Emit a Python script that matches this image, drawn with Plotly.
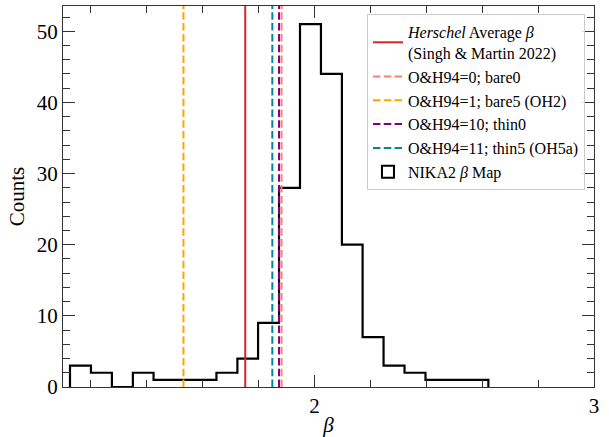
import plotly.graph_objects as go

# Histogram of NIKA2 beta map
bin_edges = [1.125, 1.200, 1.275, 1.350, 1.424, 1.499, 1.574, 1.649, 1.724, 1.798,
             1.873, 1.948, 2.023, 2.098, 2.172, 2.247, 2.322, 2.397, 2.472, 2.547, 2.622]
counts = [3, 2, 0, 2, 1, 1, 1, 2, 4, 9, 28, 51, 44, 20, 7, 3, 2, 1, 1, 1]

# Reference beta values (vertical lines)
line_names = ["<i>Herschel</i> Average <i>β</i><br>(Singh & Martin 2022)",
              "O&H94=0; bare0",
              "O&H94=1; bare5 (OH2)",
              "O&H94=10; thin0",
              "O&H94=11; thin5 (OH5a)"]
line_values = [1.752, 1.882, 1.531, 1.873, 1.849]
line_colors = ["#d62728", "#fa8072", "#ffa500", "#800080", "#008b8b"]
line_dashes = ["solid", "7.5px,3.3px", "7.5px,3.3px", "7.5px,3.3px", "7.5px,3.3px"]

x_range = [1.1, 3.0]
y_range = [0, 53.55]

FONT = "Liberation Serif, Times New Roman, serif"

fig = go.Figure()

# step outline
sx = [bin_edges[0]]
sy = [0]
for i, c in enumerate(counts):
    sx.append(bin_edges[i])
    sy.append(c)
sx.append(bin_edges[-1])
sy.append(counts[-1])
sx.append(bin_edges[-1])
sy.append(0)
fig.add_trace(go.Scatter(x=sx, y=sy, mode="lines", line=dict(color="black", width=2.2, shape="hv"),
                         showlegend=False, hoverinfo="skip"))

for name, v, col, dash in zip(line_names, line_values, line_colors, line_dashes):
    fig.add_trace(go.Scatter(x=[v, v], y=y_range, mode="lines", name=name,
                             line=dict(color=col, width=2, dash=dash)))

# legend proxy for histogram
fig.add_trace(go.Bar(x=[None], y=[None], name="NIKA2 <i>β</i> Map",
                     marker=dict(color="rgba(255,255,255,0)", line=dict(color="black", width=2))))

axis_common = dict(showline=True, linecolor="#333", linewidth=1.3, mirror="allticks",
                   ticks="inside", tickcolor="#333", tickwidth=1.2, ticklen=12,
                   showgrid=False, zeroline=False, automargin=False,
                   tickfont=dict(family=FONT, size=21, color="black"))

fig.update_layout(
    width=609, height=437,
    margin=dict(l=63, r=15, t=6, b=50),
    paper_bgcolor="white", plot_bgcolor="white",
    font=dict(family=FONT, color="black"),
    xaxis=dict(range=x_range, dtick=1, tick0=0,
               minor=dict(ticks="inside", dtick=0.2, tick0=0, ticklen=7, tickcolor="#333", tickwidth=1),
               title=dict(text="<i>β</i>", font=dict(family=FONT, size=21), standoff=4),
               **axis_common),
    yaxis=dict(range=y_range, dtick=10, tick0=0,
               minor=dict(ticks="inside", dtick=2, tick0=0, ticklen=7, tickcolor="#333", tickwidth=1),
               title=dict(text="Counts", font=dict(family=FONT, size=21), standoff=6),
               **axis_common),
    legend=dict(x=0.983, y=0.979, xanchor="right", yanchor="top",
                bgcolor="rgba(255,255,255,0.85)", bordercolor="#cccccc", borderwidth=1,
                font=dict(family=FONT, size=16, color="black"), tracegroupgap=0),
    showlegend=True,
)

fig.write_html("out.html", config={"displayModeBar": False},
               post_script="document.body.style.margin='0';document.body.style.padding='0';")
